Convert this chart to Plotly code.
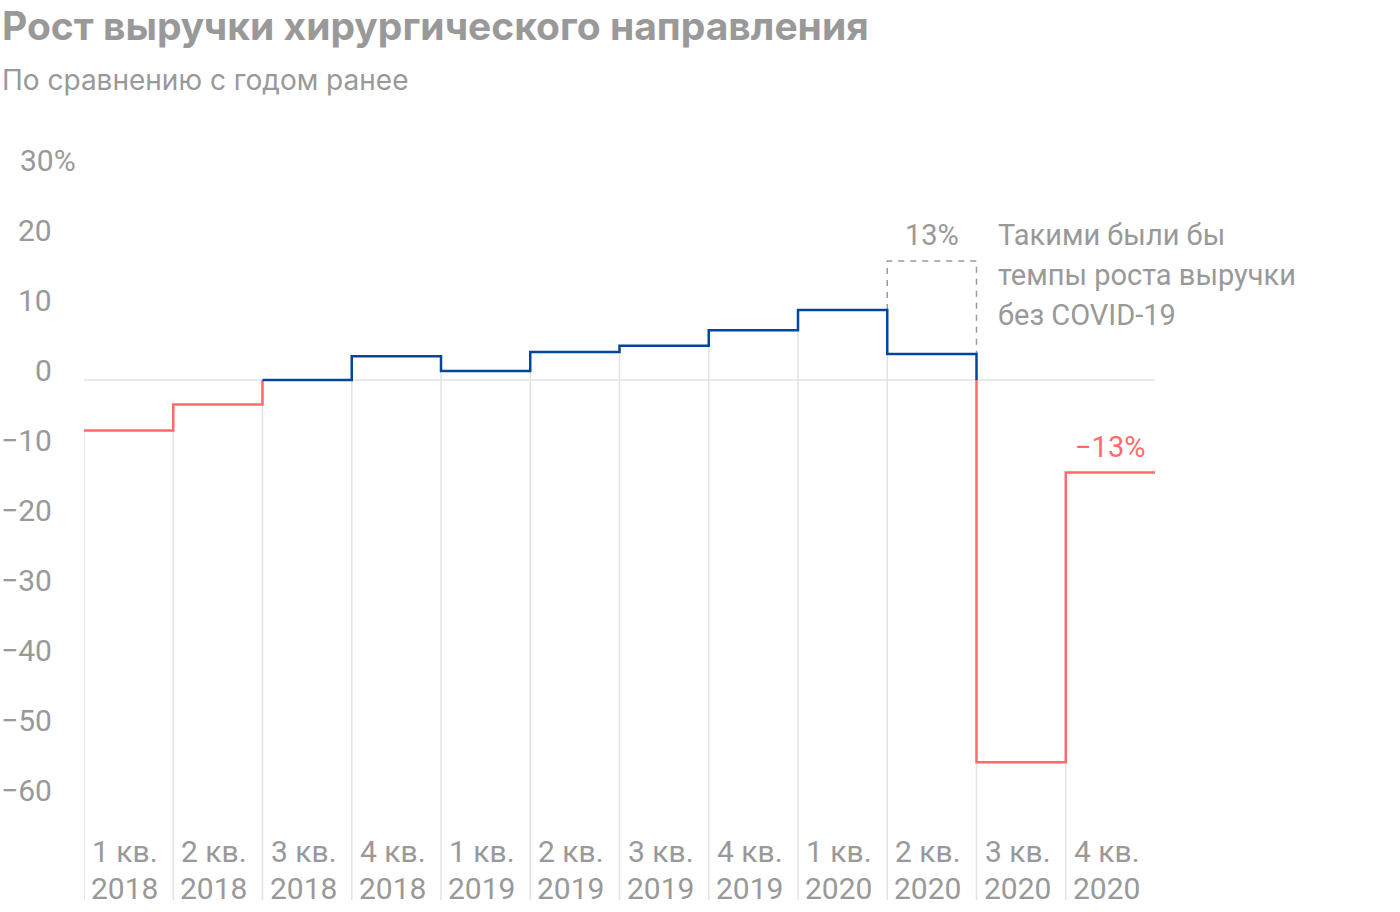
import plotly.graph_objects as go

# ---- data ----
quarters = ["1 кв.", "2 кв.", "3 кв.", "4 кв.", "1 кв.", "2 кв.", "3 кв.", "4 кв.", "1 кв.", "2 кв.", "3 кв.", "4 кв."]
years = ["2018", "2018", "2018", "2018", "2019", "2019", "2019", "2019", "2020", "2020", "2020", "2020"]
growth = [-7.2, -3.5, 0.0, 3.4, 1.3, 4.0, 4.9, 7.1, 10.0, 3.7, -54.6, -13.2]
no_covid_q = 9          # index of quarter with hypothetical value
no_covid_value = 17.0   # drawn level of dashed box
no_covid_label = "13%"
last_label = "−13%"
note_lines = ["Такими были бы", "темпы роста выручки", "без COVID-19"]
ytick_vals = [30, 20, 10, 0, -10, -20, -30, -40, -50, -60]
ytick_text = ["30%", "20", "10", "0", "−10", "−20", "−30", "−40", "−50", "−60"]

RED = "#ff6b6b"
BLUE = "#00479b"
GRAY = "#999999"
GRID = "#e3e3e3"
FONT = "Roboto"
TFONT = "Inter"

W, H = 1400, 900
L, R, T, B = 84, 245, 100, 0
YMAX = 40
YMIN = YMAX - (H - T - B) / 7.0   # 7 px per percentage point


def px2paper_x(px):
    return (px - L) / (W - L - R)


def py2paper_y(py):
    return (H - B - py) / (H - T - B)


n = len(growth)
fig = go.Figure()

# vertical gridlines from each quarter's level down to the bottom
gx, gy = [], []
for i, v in enumerate(growth):
    gx += [i, i, None]
    gy += [v, YMIN, None]
fig.add_trace(go.Scatter(x=gx, y=gy, mode="lines", line=dict(color=GRID, width=1.5),
                         hoverinfo="skip", showlegend=False))
# zero line
fig.add_trace(go.Scatter(x=[0, n], y=[0, 0], mode="lines", line=dict(color=GRID, width=1.5),
                         hoverinfo="skip", showlegend=False))

# dashed "without COVID" box
fig.add_trace(go.Scatter(
    x=[no_covid_q, no_covid_q, no_covid_q + 1, no_covid_q + 1],
    y=[growth[no_covid_q - 1], no_covid_value, no_covid_value, growth[no_covid_q]],
    mode="lines", line=dict(color=GRAY, width=1.5, dash="6px,6px"),
    hoverinfo="skip", showlegend=False))

# step path, split by sign
pts = [(0, growth[0])]
for i, v in enumerate(growth):
    if i > 0:
        pts.append((i, v))
    pts.append((i + 1, v))
path = [pts[0]]
for a, b in zip(pts[:-1], pts[1:]):
    if (a[1] < 0) != (b[1] < 0):
        path.append((a[0], 0.0))
    path.append(b)
segs = {"neg": ([], []), "pos": ([], [])}
prev_key = None
for a, b in zip(path[:-1], path[1:]):
    mid = (a[1] + b[1]) / 2
    key = "neg" if mid < 0 else "pos"
    xs, ys = segs[key]
    if key != prev_key:
        if xs:
            xs.append(None); ys.append(None)
        xs.append(a[0]); ys.append(a[1])
    xs.append(b[0]); ys.append(b[1])
    prev_key = key
fig.add_trace(go.Scatter(x=segs["neg"][0], y=segs["neg"][1], mode="lines",
                         line=dict(color=RED, width=2.5), hoverinfo="skip", showlegend=False))
fig.add_trace(go.Scatter(x=segs["pos"][0], y=segs["pos"][1], mode="lines",
                         line=dict(color=BLUE, width=2.5), hoverinfo="skip", showlegend=False))

ann = []
# title / subtitle
ann.append(dict(text="<b>Рост выручки хирургического направления</b>", x=px2paper_x(0), y=py2paper_y(25),
                xref="paper", yref="paper", xanchor="left", yanchor="middle", showarrow=False,
                font=dict(family=TFONT, size=39, color=GRAY)))
ann.append(dict(text="По сравнению с годом ранее", x=px2paper_x(0), y=py2paper_y(80),
                xref="paper", yref="paper", xanchor="left", yanchor="middle", showarrow=False,
                font=dict(family=TFONT, size=28, color=GRAY)))
# y tick labels
for v, t in zip(ytick_vals, ytick_text):
    if t.endswith("%"):
        ann.append(dict(text=t, x=px2paper_x(18), xanchor="left", y=v, yshift=10,
                        xref="paper", yref="y", yanchor="middle", showarrow=False,
                        font=dict(family=FONT, size=30, color=GRAY)))
    else:
        ann.append(dict(text=t, x=px2paper_x(54), xanchor="right", y=v, yshift=10,
                        xref="paper", yref="y", yanchor="middle", showarrow=False,
                        font=dict(family=FONT, size=30, color=GRAY)))
# x labels
for i, (q, yr) in enumerate(zip(quarters, years)):
    ann.append(dict(text=q, x=i, xshift=6, xanchor="left", y=py2paper_y(851), yref="paper",
                    xref="x", yanchor="middle", showarrow=False,
                    font=dict(family=FONT, size=30, color=GRAY)))
    ann.append(dict(text=yr, x=i, xshift=5, xanchor="left", y=py2paper_y(888), yref="paper",
                    xref="x", yanchor="middle", showarrow=False,
                    font=dict(family=FONT, size=30, color=GRAY)))
# callouts
ann.append(dict(text=no_covid_label, x=no_covid_q + 0.5, y=py2paper_y(235), xref="x", yref="paper",
                xanchor="center", yanchor="middle", showarrow=False,
                font=dict(family=FONT, size=29, color=GRAY)))
for k, line in enumerate(note_lines):
    ann.append(dict(text=line, x=px2paper_x(996), y=py2paper_y(235 + 40 * k), xref="paper", yref="paper",
                    xanchor="left", yanchor="middle", showarrow=False,
                    font=dict(family=FONT, size=29, color=GRAY)))
ann.append(dict(text=last_label, x=n - 0.5, y=growth[-1], yshift=25, xref="x", yref="y",
                xanchor="center", yanchor="middle", showarrow=False,
                font=dict(family=FONT, size=29, color=RED)))

fig.update_layout(
    width=W, height=H,
    margin=dict(l=L, r=R, t=T, b=B, pad=0),
    paper_bgcolor="white", plot_bgcolor="white",
    xaxis=dict(range=[0, n], showgrid=False, zeroline=False, showticklabels=False,
               showline=False, ticks="", fixedrange=True),
    yaxis=dict(range=[YMIN, YMAX], showgrid=False, zeroline=False, showticklabels=False,
               showline=False, ticks="", fixedrange=True),
    annotations=ann,
    showlegend=False,
)
fig.write_html("out.html", config={"displayModeBar": False},
               post_script="document.body.style.margin='0';")
